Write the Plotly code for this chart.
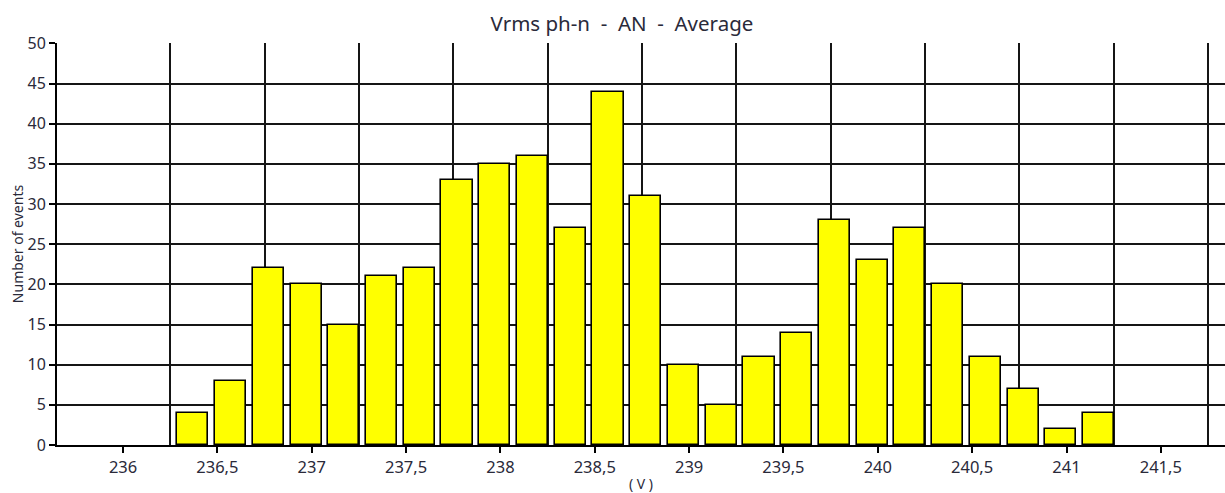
import plotly.graph_objects as go

# Bin centres (V) and counts
bin_centers = [236.37, 236.57, 236.77, 236.97, 237.17, 237.37, 237.57, 237.77,
               237.97, 238.17, 238.37, 238.57, 238.77, 238.97, 239.17, 239.37,
               239.57, 239.77, 239.97, 240.17, 240.37, 240.57, 240.77, 240.97,
               241.17]
counts = [4, 8, 22, 20, 15, 21, 22, 33, 35, 36, 27, 44, 31, 10, 5, 11,
          14, 28, 23, 27, 20, 11, 7, 2, 4]

x_tick_vals = [236, 236.5, 237, 237.5, 238, 238.5, 239, 239.5, 240, 240.5, 241, 241.5]
x_tick_text = ["236", "236,5", "237", "237,5", "238", "238,5", "239", "239,5",
               "240", "240,5", "241", "241,5"]
x_grid_vals = [236.25, 236.75, 237.25, 237.75, 238.25, 238.75, 239.25, 239.75,
               240.25, 240.75, 241.25, 241.75]
y_tick_vals = [0, 5, 10, 15, 20, 25, 30, 35, 40, 45, 50]

title_text = "Vrms ph-n\u00a0\u00a0-\u00a0\u00a0AN\u00a0\u00a0-\u00a0\u00a0Average"

FONT = "Noto Sans"
TXT = "#2a2a3a"
GRID = "#151515"
X_RANGE = [235.65, 241.84]

fig = go.Figure()
fig.add_trace(go.Bar(
    x=bin_centers, y=counts, width=0.165,
    marker=dict(color="#FFFF00", line=dict(color="#000000", width=1.6)),
    showlegend=False,
))

fig.update_layout(
    width=1225, height=493,
    margin=dict(l=57, r=0, t=43, b=48),
    paper_bgcolor="white", plot_bgcolor="white",
    font=dict(family=FONT, size=16, color=TXT),
    title=dict(text=title_text, x=0.4837, xref="paper", xanchor="center",
               y=1 - 24 / 493, yref="container", yanchor="middle",
               font=dict(family=FONT, size=20.5, color=TXT)),
    bargap=0,
    xaxis2=dict(
        overlaying="x", side="bottom", range=X_RANGE,
        tickmode="array", tickvals=x_grid_vals,
        showticklabels=False, ticks="",
        showgrid=True, gridcolor=GRID, gridwidth=1.6,
        zeroline=False, showline=False,
    ),
)

fig.layout.xaxis.update(
    range=X_RANGE,
    tickmode="array", tickvals=x_tick_vals, ticktext=x_tick_text,
    ticks="outside", ticklen=6, tickwidth=1.6, tickcolor="#000",
    showgrid=False, zeroline=False,
    showline=True, linecolor="#000", linewidth=1.8,
    tickfont=dict(family=FONT, size=16.5, color=TXT),
    title=dict(text="(\u00a0V\u00a0)", font=dict(family=FONT, size=14, color=TXT), standoff=4),
)
fig.layout.yaxis.update(
    range=[0, 50.05],
    tickmode="array", tickvals=y_tick_vals,
    ticks="outside", ticklen=6, tickwidth=1.6, tickcolor="#000",
    showgrid=True, gridcolor=GRID, gridwidth=1.6, zeroline=False,
    showline=True, linecolor="#000", linewidth=1.8,
    tickfont=dict(family=FONT, size=16, color=TXT),
    title=dict(text="Number of events", font=dict(family=FONT, size=14, color=TXT), standoff=1),
)

# invisible helper trace so the grid axis is rendered
fig.add_trace(go.Scatter(x=[X_RANGE[0]], y=[0], xaxis="x2", yaxis="y",
                         mode="markers", marker=dict(opacity=0),
                         showlegend=False, hoverinfo="skip"))

fig.write_html("out.html")
